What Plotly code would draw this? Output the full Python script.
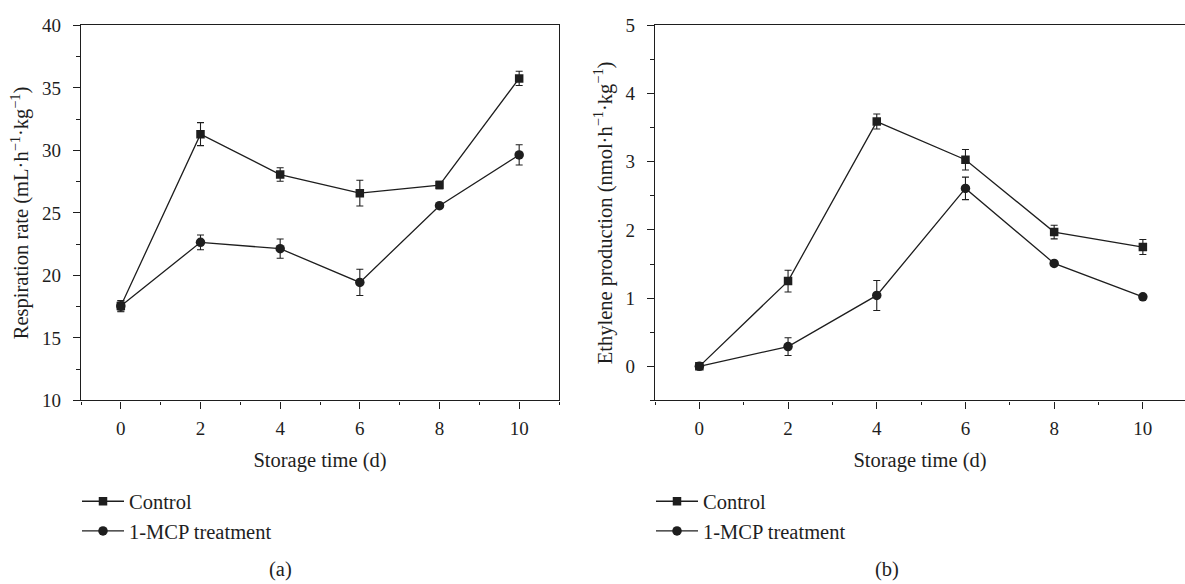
import plotly.graph_objects as go

# ---- data ----
days = [0, 2, 4, 6, 8, 10]

resp_control = [17.55, 31.3, 28.07, 26.58, 27.23, 35.76]
resp_control_err = [0.45, 0.92, 0.54, 1.03, 0.3, 0.57]
resp_mcp = [17.55, 22.65, 22.14, 19.44, 25.58, 29.64]
resp_mcp_err = [0.4, 0.59, 0.77, 1.05, 0.1, 0.81]

eth_control = [0.0, 1.25, 3.59, 3.03, 1.97, 1.75]
eth_control_err = [0.04, 0.16, 0.11, 0.15, 0.1, 0.11]
eth_mcp = [0.0, 0.29, 1.04, 2.61, 1.51, 1.02]
eth_mcp_err = [0.03, 0.13, 0.22, 0.165, 0.03, 0.03]

series_names = ["Control", "1-MCP treatment"]
panel_labels = ["(a)", "(b)"]

W, H = 1185, 584
INK = "#1e1e1e"
FONT = "Liberation Serif"
FS_TICK = 19
FS = 20.5

def px_x(v):
    return v / W

def px_y(v):
    return 1 - v / H

fig = go.Figure()

def add_series(x, y, err, name, symbol, size, xa, ya, legend):
    fig.add_trace(go.Scatter(
        x=x, y=y, name=name, mode="lines+markers",
        xaxis=xa, yaxis=ya, legend=legend,
        line=dict(color=INK, width=1.3),
        marker=dict(symbol=symbol, size=size, color=INK),
        error_y=dict(type="data", array=err, visible=True,
                     color=INK, thickness=1.1, width=3.5),
    ))

add_series(days, resp_control, resp_control_err, series_names[0], "square", 8.5, "x", "y", "legend")
add_series(days, resp_mcp, resp_mcp_err, series_names[1], "circle", 9.5, "x", "y", "legend")
add_series(days, eth_control, eth_control_err, series_names[0], "square", 8.5, "x2", "y2", "legend2")
add_series(days, eth_mcp, eth_mcp_err, series_names[1], "circle", 9.5, "x2", "y2", "legend2")

common_x = dict(
    tickmode="linear", tick0=0, dtick=2, ticks="outside", ticklen=7, tickwidth=1.2,
    tickcolor=INK, showline=True, linecolor=INK, linewidth=1.3, mirror=True,
    showgrid=False, zeroline=False, ticklabelstandoff=4,
    tickfont=dict(family=FONT, size=FS_TICK, color=INK),
    minor=dict(dtick=1, tick0=0, ticks="outside", ticklen=3.5, tickcolor=INK, tickwidth=1.2, showgrid=False),
    title=dict(text="Storage time (d)", font=dict(family=FONT, size=FS, color=INK), standoff=14),
)

common_y = dict(
    tickmode="linear", ticks="outside", ticklen=7, tickwidth=1.2,
    tickcolor=INK, showline=True, linecolor=INK, linewidth=1.3,
    showgrid=False, zeroline=False, ticklabelstandoff=8,
    tickfont=dict(family=FONT, size=FS_TICK, color=INK),
)

y_dom = [px_y(405), px_y(16)]

fig.update_layout(
    width=W, height=H,
    margin=dict(l=0, r=0, t=0, b=0),
    paper_bgcolor="white", plot_bgcolor="white",
    showlegend=True,
    xaxis=dict(common_x, domain=[px_x(81), px_x(559)], range=[-1, 11], anchor="y"),
    yaxis=dict(
        common_y, domain=y_dom, range=[10, 40], anchor="x", tick0=10, dtick=5, mirror=True,
        minor=dict(dtick=2.5, tick0=10, ticks="outside", ticklen=3.5, tickcolor=INK, tickwidth=1.2, showgrid=False),
        title=dict(text="Respiration rate (mL·h<sup>−1</sup>·kg<sup>−1</sup>)",
                   font=dict(family=FONT, size=FS, color=INK), standoff=7),
    ),
    xaxis2=dict(common_x, domain=[px_x(655), 1.0], range=[-1, 10.95], anchor="y2"),
    yaxis2=dict(
        common_y, domain=y_dom, range=[-0.5, 5], anchor="x2", tick0=0, dtick=1, mirror=False,
        minor=dict(dtick=0.5, tick0=0, ticks="outside", ticklen=3.5, tickcolor=INK, tickwidth=1.2, showgrid=False),
        title=dict(text="Ethylene production (nmol·h<sup>−1</sup>·kg<sup>−1</sup>)",
                   font=dict(family=FONT, size=FS, color=INK), standoff=7),
    ),
    legend=dict(x=px_x(77), y=px_y(489), xanchor="left", yanchor="top",
                font=dict(family=FONT, size=FS, color=INK), itemwidth=42,
                bgcolor="rgba(0,0,0,0)", tracegroupgap=0, traceorder="normal"),
    legend2=dict(x=px_x(651), y=px_y(489), xanchor="left", yanchor="top",
                 font=dict(family=FONT, size=FS, color=INK), itemwidth=42,
                 bgcolor="rgba(0,0,0,0)", tracegroupgap=0, traceorder="normal"),
)

fig.add_annotation(x=px_x(280), y=px_y(572), xref="paper", yref="paper",
                   xanchor="center", yanchor="middle", yshift=-8,
                   text=panel_labels[0], showarrow=False,
                   font=dict(family=FONT, size=FS, color=INK))
fig.add_annotation(x=px_x(887), y=px_y(572), xref="paper", yref="paper",
                   xanchor="center", yanchor="middle", yshift=-8,
                   text=panel_labels[1], showarrow=False,
                   font=dict(family=FONT, size=FS, color=INK))

fig.write_html("out.html")
